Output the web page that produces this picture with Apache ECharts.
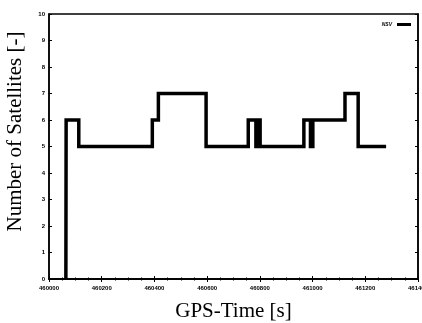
<!DOCTYPE html>
<html><head><meta charset="utf-8">
<script src="https://cdn.jsdelivr.net/npm/echarts@6/dist/echarts.min.js"></script>
<style>html,body{margin:0;padding:0;background:#fff}#c{width:422px;height:323px}</style>
</head><body><div id="c"></div>
<script>
// GPS time (s) of each change point, and number of satellites held from that time
const gpsTime = [460064, 460065, 460113, 460392, 460415, 460596, 460756, 460785, 460793, 460801, 460967, 460992, 461001, 461123, 461173, 461279];
const numSats = [0, 6, 5, 6, 7, 5, 6, 5, 6, 5, 6, 5, 6, 7, 5, 5];
const xTicks = [460000, 460200, 460400, 460600, 460800, 461000, 461200, 461400];
const yTicks = [0, 1, 2, 3, 4, 5, 6, 7, 8, 9, 10];
const seriesName = 'NSV';

const data = gpsTime.map((t, i) => [t, numSats[i]]);
const chart = echarts.init(document.getElementById('c'), null, {renderer: 'canvas'});
const tickLbl = {fontSize: 6, fontWeight: 'bold', color: '#000', fontFamily: 'Liberation Sans'};
chart.setOption({
  animation: false,
  grid: {left: 49, right: 4, top: 14, bottom: 44, show: true, borderColor: '#000', borderWidth: 1.5,
         containLabel: false, outerBoundsMode: 'none'},
  legend: {
    show: true, right: 6, top: 17, itemWidth: 14, itemHeight: 3, align: 'right', itemGap: 2,
    textStyle: {fontSize: 5, fontWeight: 'bold', color: '#000', fontStyle: 'italic'},
    data: [{name: seriesName, icon: 'rect'}]
  },
  xAxis: [{
    type: 'value', min: xTicks[0], max: xTicks[xTicks.length - 1], interval: 200,
    name: 'GPS-Time [s]', nameLocation: 'middle', nameGap: 22,
    nameTextStyle: {fontFamily: 'Liberation Serif', fontSize: 21, color: '#000'},
    axisLine: {show: true, lineStyle: {color: '#000', width: 1.5}},
    axisTick: {show: true, inside: true, length: 3, lineStyle: {color: '#000'}},
    minorTick: {show: true, splitNumber: 4, length: 1.5, lineStyle: {color: '#000'}},
    axisLabel: Object.assign({margin: 6, formatter: v => String(v)}, tickLbl),
    splitLine: {show: false}
  }, {
    type: 'value', position: 'top', min: xTicks[0], max: xTicks[xTicks.length - 1], interval: 200,
    axisLine: {show: true, lineStyle: {color: '#000', width: 1.5}},
    axisTick: {show: true, inside: true, length: 3, lineStyle: {color: '#000'}},
    minorTick: {show: true, splitNumber: 4, length: 1.5, lineStyle: {color: '#000'}},
    axisLabel: {show: false}, splitLine: {show: false}
  }],
  yAxis: [{
    type: 'value', min: yTicks[0], max: yTicks[yTicks.length - 1], interval: 1,
    name: 'Number of Satellites [-]', nameLocation: 'middle', nameGap: 23,
    nameTextStyle: {fontFamily: 'Liberation Serif', fontSize: 21, color: '#000', padding: [0, 0, 0, 30]},
    axisLine: {show: true, lineStyle: {color: '#000', width: 1.5}},
    axisTick: {show: true, inside: true, length: 3, lineStyle: {color: '#000'}},
    axisLabel: Object.assign({margin: 4}, tickLbl),
    splitLine: {show: false}
  }, {
    type: 'value', position: 'right', min: yTicks[0], max: yTicks[yTicks.length - 1], interval: 1,
    axisLine: {show: true, lineStyle: {color: '#000', width: 1.5}},
    axisTick: {show: true, inside: true, length: 3, lineStyle: {color: '#000'}},
    axisLabel: {show: false}, splitLine: {show: false}
  }],
  series: [{
    name: seriesName, type: 'line', step: 'end', data: data, showSymbol: false,
    lineStyle: {color: '#000', width: 3.5, join: 'miter'}, itemStyle: {color: '#000'}
  }]
});
</script></body></html>
